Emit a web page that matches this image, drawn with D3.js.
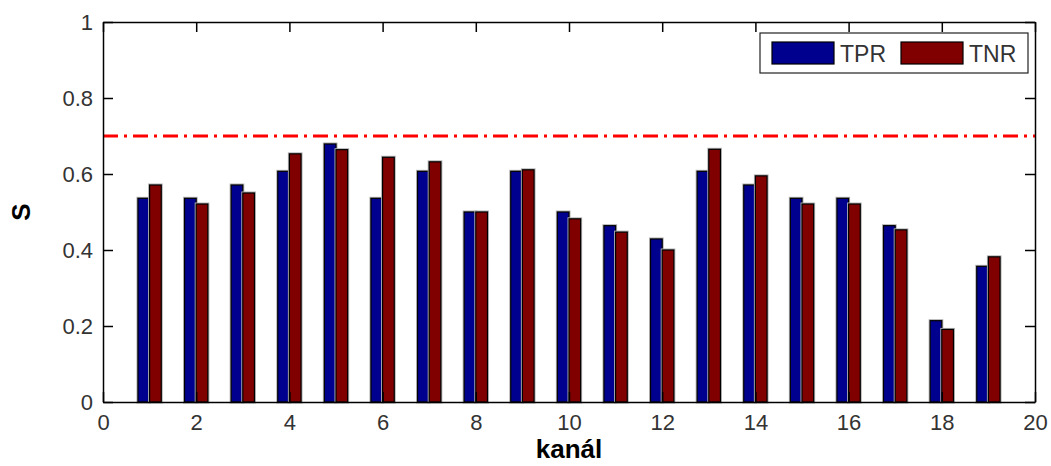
<!DOCTYPE html>
<html>
<head>
<meta charset="utf-8">
<script src="https://cdn.jsdelivr.net/npm/d3@7"></script>
<style>
  body { margin: 0; background: #fff; }
  text { font-family: "Liberation Sans", Arial, sans-serif; }
</style>
</head>
<body>
<div id="chart"></div>
<script>
// channel numbers and the two rates per channel
const channels = d3.range(1, 20)
const tpr = [0.536, 0.536, 0.571, 0.607, 0.679, 0.536, 0.607, 0.5, 0.607, 0.5,
             0.464, 0.429, 0.607, 0.571, 0.536, 0.536, 0.464, 0.214, 0.357]
const tnr = [0.571, 0.521, 0.55, 0.653, 0.664, 0.644, 0.632, 0.5, 0.611, 0.482,
             0.447, 0.4, 0.665, 0.595, 0.521, 0.521, 0.453, 0.191, 0.382]
const threshold = 0.7
const xTicks = d3.range(0, 21, 2)
const yTicks = [0, 0.2, 0.4, 0.6, 0.8, 1]
const seriesNames = ['TPR', 'TNR']

const width = 1051
const height = 466
const plotLeft = 103, plotRight = 1035, plotTop = 22, plotBottom = 402
const barW = 0.25

const svg = d3.select('#chart')
    .append('svg')
    .attr('width', width)
    .attr('height', height)

const x = d3.scaleLinear().domain([0, 20]).range([plotLeft, plotRight])
const y = d3.scaleLinear().domain([0, 1]).range([plotBottom, plotTop])

const colors = { TPR: '#00008f', TNR: '#800000' }

const rows = channels.map((c, i) => ({ ch: c, TPR: tpr[i], TNR: tnr[i] }))

// bars
seriesNames.forEach((name, k) => {
    const g = svg.append('g')
    const offset = k === 0 ? -barW : 0
    // soft grey halo like the original rendering
    g.selectAll('.halo-' + name)
        .data(rows)
        .enter().append('rect')
        .attr('x', d => x(d.ch + offset))
        .attr('y', d => y(d[name]))
        .attr('width', d => x(d.ch + offset + barW) - x(d.ch + offset))
        .attr('height', d => y(0) - y(d[name]))
        .attr('fill', 'none')
        .attr('stroke', '#b0b0b0')
        .attr('stroke-width', 3)
    g.selectAll('.bar-' + name)
        .data(rows)
        .enter().append('rect')
        .attr('x', d => x(d.ch + offset))
        .attr('y', d => y(d[name]))
        .attr('width', d => x(d.ch + offset + barW) - x(d.ch + offset))
        .attr('height', d => y(0) - y(d[name]))
        .attr('fill', colors[name])
        .attr('stroke', '#000')
        .attr('stroke-width', 1.2)
})

// threshold line
svg.append('line')
    .attr('x1', x(0))
    .attr('x2', x(20))
    .attr('y1', y(threshold))
    .attr('y2', y(threshold))
    .attr('stroke', '#ff0000')
    .attr('stroke-width', 3)
    .attr('stroke-dasharray', '15,6,3,6')

// axes, ticks pointing inward like matlab
function styleAxis(g) {
    g.select('.domain').attr('stroke', '#000').attr('stroke-width', 1.5)
    g.selectAll('.tick line').attr('stroke', '#000').attr('stroke-width', 1.5)
    g.selectAll('.tick text')
        .attr('fill', '#333')
        .style('font-size', '22px')
}

svg.append('g')
    .attr('transform', `translate(0,${plotBottom})`)
    .call(d3.axisBottom(x).tickValues(xTicks).tickSize(-10).tickSizeOuter(0).tickPadding(12).tickFormat(d3.format('d')))
    .call(styleAxis)

svg.append('g')
    .attr('transform', `translate(${plotLeft},0)`)
    .call(d3.axisLeft(y).tickValues(yTicks).tickSize(-10).tickSizeOuter(0).tickPadding(10).tickFormat(d => d === 0 || d === 1 ? d : d3.format('.1f')(d)))
    .call(styleAxis)

svg.append('g')
    .attr('transform', `translate(0,${plotTop})`)
    .call(d3.axisTop(x).tickValues(xTicks).tickSize(-10).tickSizeOuter(0).tickFormat(''))
    .call(styleAxis)

svg.append('g')
    .attr('transform', `translate(${plotRight},0)`)
    .call(d3.axisRight(y).tickValues(yTicks).tickSize(-10).tickSizeOuter(0).tickFormat(''))
    .call(styleAxis)

// axis titles
svg.append('text')
    .attr('x', (plotLeft + plotRight) / 2)
    .attr('y', 458)
    .attr('text-anchor', 'middle')
    .style('font-size', '26px')
    .style('font-weight', 'bold')
    .text('kanál')

svg.append('text')
    .attr('transform', `translate(30,${(plotTop + plotBottom) / 2}) rotate(-90)`)
    .attr('text-anchor', 'middle')
    .style('font-size', '26px')
    .style('font-weight', 'bold')
    .text('S')

// legend
const legend = svg.append('g')
legend.append('rect')
    .attr('x', 760).attr('y', 33)
    .attr('width', 268).attr('height', 40)
    .attr('fill', '#fff')
    .attr('stroke', '#222')
    .attr('stroke-width', 1.2)

const legendX = [772, 901]
seriesNames.forEach((name, k) => {
    legend.append('rect')
        .attr('x', legendX[k]).attr('y', 42)
        .attr('width', 62).attr('height', 22)
        .attr('fill', colors[name])
        .attr('stroke', '#000')
        .attr('stroke-width', 1.2)
    legend.append('text')
        .attr('x', legendX[k] + 68)
        .attr('y', 62)
        .attr('fill', '#333')
        .style('font-size', '23px')
        .text(name)
})
</script>
</body>
</html>
